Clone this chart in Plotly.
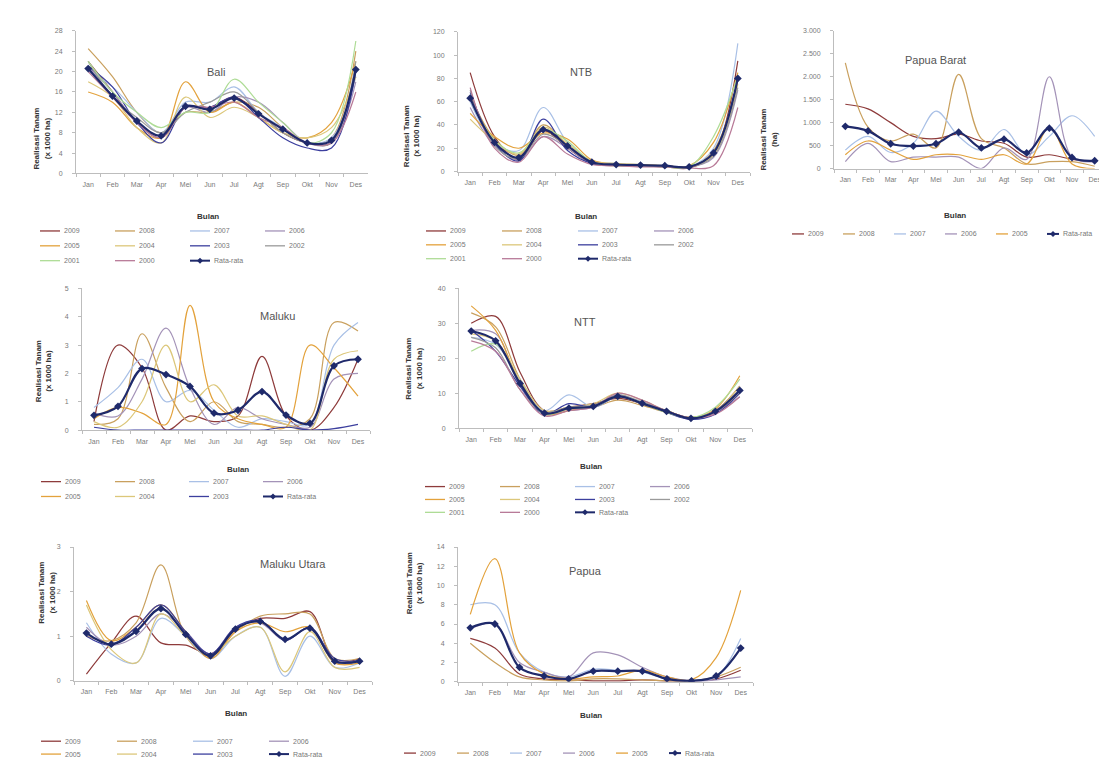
import plotly.graph_objects as go

W, H = 1107, 758

months = ['Jan', 'Feb', 'Mar', 'Apr', 'Mei', 'Jun', 'Jul', 'Agt', 'Sep', 'Okt', 'Nov', 'Des']
years10 = ['2009', '2008', '2007', '2006', '2005', '2004', '2003', '2002', '2001', '2000']
years7 = years10[:7]
years5 = years10[:5]
avg_label = 'Rata-rata'

# ---------------- data (x 1000 ha, Papua Barat in ha) ----------------
bali_values = [
    [22, 16, 10, 7, 13, 13, 15, 12, 8, 6, 6, 21],
    [24.5, 19, 12, 8, 12, 12, 14, 13, 9, 6, 7, 24],
    [20, 17, 12, 8, 14, 14, 17, 12, 9, 6, 7, 19],
    [21, 16, 10, 7, 13, 12, 15, 14, 10, 6, 6, 18],
    [16, 14, 9, 7, 18, 12, 14, 11, 8, 7, 10, 22],
    [18, 15, 9, 6, 15, 11, 13, 11, 8, 7, 9, 19],
    [21, 17, 10, 6, 13, 13, 15, 11, 7, 5, 5, 20],
    [22, 15, 11, 8, 12, 14, 16, 12, 8, 6, 6, 22],
    [22, 16, 12, 9, 12, 12, 18.5, 14, 10, 6, 8, 26],
    [20, 15, 10, 7, 13, 13, 14, 11, 9, 6, 6, 16],
]
bali_avg = [20.6, 15.2, 10.3, 7.4, 13.2, 12.6, 14.8, 11.7, 8.7, 6.0, 6.5, 20.4]

ntb_values = [
    [85, 30, 10, 35, 20, 7, 5, 5, 4, 3, 15, 95],
    [65, 28, 14, 40, 22, 8, 6, 5, 5, 4, 18, 78],
    [60, 25, 18, 55, 25, 9, 7, 6, 5, 4, 20, 110],
    [55, 22, 10, 30, 20, 7, 6, 5, 4, 4, 12, 70],
    [50, 30, 20, 33, 28, 10, 6, 6, 5, 5, 25, 85],
    [45, 26, 15, 38, 24, 9, 7, 6, 5, 4, 14, 75],
    [68, 24, 9, 45, 18, 7, 6, 5, 5, 4, 16, 80],
    [70, 22, 11, 32, 22, 8, 6, 5, 4, 4, 13, 72],
    [62, 27, 16, 36, 26, 8, 5, 5, 4, 4, 30, 82],
    [72, 20, 8, 30, 15, 6, 5, 4, 4, 3, 5, 55],
]
ntb_avg = [63, 25, 12, 36, 22, 8, 6, 5.5, 5, 4, 16, 80]

papbar_values = [
    [1400, 1300, 1000, 700, 650, 750, 600, 550, 250, 300, 200, 150],
    [2300, 900, 600, 750, 450, 2050, 650, 450, 100, 150, 150, 50],
    [400, 700, 350, 550, 1250, 700, 400, 850, 300, 700, 1150, 700],
    [150, 550, 150, 250, 250, 250, 0, 450, 200, 2000, 250, 150],
    [300, 600, 400, 200, 300, 300, 200, 300, 100, 900, 100, 0],
]
papbar_avg = [920, 820, 540, 490, 540, 790, 450, 640, 340, 880, 240, 170]

maluku_values = [
    [0.3, 3.0, 2.2, 0.0, 0.5, 0.3, 0.5, 2.6, 0.5, 0.0, 0.8, 2.5],
    [0.2, 0.4, 3.4, 1.5, 0.3, 1.0, 0.3, 0.2, 0.1, 0.4, 3.8, 3.5],
    [0.8, 1.5, 2.5, 1.0, 1.4, 0.7, 0.1, 0.4, 0.3, 0.2, 3.0, 3.8],
    [0.6, 0.5, 1.8, 3.6, 1.5, 0.2, 0.8, 0.4, 0.2, 0.1, 1.8, 2.0],
    [0.4, 0.8, 0.6, 0.2, 4.4, 1.0, 0.4, 0.2, 0.1, 3.0, 2.2, 1.2],
    [0.3, 0.1, 1.0, 3.0, 1.0, 1.6, 0.5, 0.5, 0.2, 0.0, 2.5, 2.8],
    [0.1, 0.0, 0.0, 0.0, 0.0, 0.0, 0.0, 0.0, 0.1, 0.0, 0.05, 0.2],
]
maluku_avg = [0.52, 0.84, 2.17, 1.96, 1.54, 0.6, 0.7, 1.36, 0.53, 0.24, 2.27, 2.5]

ntt_values = [
    [30, 32, 16, 5, 6, 7, 8.5, 7, 4.5, 3, 5, 12],
    [33, 29, 14, 4, 5.5, 6, 8, 6.5, 4.5, 3, 4.5, 10],
    [26, 24, 14, 5, 9.5, 6, 9, 7.5, 5, 3, 5, 11],
    [28, 27, 12, 4, 5, 6, 9.5, 7, 5, 2.5, 4.5, 9],
    [35, 28, 13, 4, 5, 6.5, 9, 7, 5, 3, 5.5, 15],
    [27, 25, 14, 5, 6, 7, 10, 8, 5, 3, 5, 12],
    [28, 22, 12, 4, 7, 6, 9, 7, 4.5, 2.5, 4, 10],
    [26, 23, 11, 4.5, 6, 6.5, 9.5, 7.5, 5, 3, 5, 11],
    [22, 24, 13, 4, 5.5, 6, 9, 7, 4.5, 3, 6, 14],
    [25, 22, 11, 3.5, 5, 6, 10, 8, 5, 3, 4, 9],
]
ntt_avg = [27.8, 25, 12.8, 4.3, 5.7, 6.2, 9.1, 7.1, 4.8, 2.8, 4.8, 10.8]

malut_values = [
    [0.15, 0.85, 1.45, 0.85, 0.8, 0.6, 1.15, 1.4, 1.4, 1.55, 0.45, 0.5],
    [1.0, 0.9, 1.3, 2.6, 1.0, 0.55, 1.1, 1.45, 1.5, 1.5, 0.5, 0.5],
    [1.3, 0.6, 0.4, 1.4, 1.0, 0.5, 1.0, 1.2, 0.1, 1.0, 0.3, 0.4],
    [1.2, 0.8, 1.0, 1.5, 1.1, 0.6, 1.2, 1.3, 0.9, 1.2, 0.4, 0.45],
    [1.8, 0.9, 1.2, 1.7, 1.1, 0.5, 1.1, 1.3, 1.1, 1.2, 0.4, 0.4],
    [1.7, 0.7, 0.4, 1.5, 1.0, 0.6, 1.0, 1.2, 0.2, 1.1, 0.3, 0.3],
    [1.0, 0.8, 1.2, 1.7, 1.1, 0.6, 1.2, 1.35, 0.9, 1.2, 0.5, 0.45],
]
malut_avg = [1.07, 0.82, 1.11, 1.62, 1.04, 0.56, 1.16, 1.33, 0.93, 1.18, 0.44, 0.44]

papua_values = [
    [4.5, 3.5, 0.8, 0.3, 0.2, 0.1, 0.1, 0.2, 0.1, 0.1, 0.3, 1.2],
    [4.0, 2.0, 0.5, 0.2, 0.1, 0.3, 0.3, 0.2, 0.1, 0.1, 0.5, 1.5],
    [8.0, 8.0, 3.0, 1.0, 0.5, 1.3, 1.2, 1.0, 0.3, 0.1, 0.5, 4.5],
    [5.5, 6.0, 2.0, 1.0, 0.5, 3.0, 2.8, 1.5, 0.5, 0.1, 0.2, 0.5],
    [7.0, 12.8, 3.0, 0.8, 0.3, 0.5, 0.6, 1.2, 0.5, 0.2, 2.5, 9.5],
]
papua_avg = [5.6, 6.0, 1.5, 0.6, 0.3, 1.1, 1.1, 1.1, 0.3, 0.1, 0.6, 3.5]

bali_ticks = [0, 4, 8, 12, 16, 20, 24, 28]
ntb_ticks = [0, 20, 40, 60, 80, 100, 120]
papbar_ticks = [0, 500, 1000, 1500, 2000, 2500, 3000]
papbar_ticktext = ['0', '500', '1.000', '1.500', '2.000', '2.500', '3.000']
maluku_ticks = [0, 1, 2, 3, 4, 5]
ntt_ticks = [0, 10, 20, 30, 40]
malut_ticks = [0, 1, 2, 3]
papua_ticks = [0, 2, 4, 6, 8, 10, 12, 14]

# ---------------- styling ----------------
year_colors = {
    '2009': '#8E3B3B', '2008': '#C9A05E', '2007': '#A9C0E6', '2006': '#A493B8',
    '2005': '#E3A23C', '2004': '#DCC77A', '2003': '#3C3F9E', '2002': '#9A9A9A',
    '2001': '#AEDC96', '2000': '#B87A98',
}
avg_color = '#1F2A6B'
FONT = 'Liberation Sans'


def fx(px):
    return px / W


def fy(py):
    return 1 - py / H


# layout spec (pixel geometry) for each panel
panels = [
    dict(title='Bali', years=years10, vals=bali_values, avg=bali_avg, ticks=bali_ticks, ticktext=None,
         x=(68, 360), y=(19, 163), ttl=(197, 52), bulan=(187, 200), ytitle_x=22, ytitle_y=95,
         unit='(x 1000 ha)', leg=dict(x0=32, dx=75, y0=221, dy=15, ncol=4)),
    dict(title='NTB', years=years10, vals=ntb_values, avg=ntb_avg, ticks=ntb_ticks, ticktext=None,
         x=(450, 742), y=(20, 161), ttl=(573, 52), bulan=(578, 200), ytitle_x=403, ytitle_y=92,
         unit='(x 1000 ha)', leg=dict(x0=418, dx=76, y0=221, dy=14, ncol=4)),
    dict(title='Papua Barat', years=years5, vals=papbar_values, avg=papbar_avg, ticks=papbar_ticks,
         ticktext=papbar_ticktext, x=(826, 1098), y=(19, 158), ttl=(960, 40), bulan=(960, 199),
         ytitle_x=772, ytitle_y=95, unit='(ha)', leg=dict(x0=784, dx=51, y0=224, dy=14, ncol=6, short=True)),
    dict(title='Maluku', years=years7, vals=maluku_values, avg=maluku_avg, ticks=maluku_ticks, ticktext=None,
         x=(74, 362), y=(279, 422), ttl=(250, 307), bulan=(217, 462), ytitle_x=24, ytitle_y=363,
         unit='(x 1000 ha)', leg=dict(x0=33, dx=74, y0=474, dy=15, ncol=4)),
    dict(title='NTT', years=years10, vals=ntt_values, avg=ntt_avg, ticks=ntt_ticks, ticktext=None,
         x=(451, 744), y=(279, 420), ttl=(577, 313), bulan=(583, 459), ytitle_x=406, ytitle_y=360,
         unit='(x 1000 ha)', leg=dict(x0=417, dx=75, y0=479, dy=13, ncol=4)),
    dict(title='Maluku Utara', years=years7, vals=malut_values, avg=malut_avg, ticks=malut_ticks, ticktext=None,
         x=(66, 364), y=(540, 675), ttl=(250, 565), bulan=(215, 715), ytitle_x=27, ytitle_y=620,
         unit='(x 1000 ha)', leg=dict(x0=33, dx=76, y0=736, dy=13, ncol=4)),
    dict(title='Papua', years=years5, vals=papua_values, avg=papua_avg, ticks=papua_ticks, ticktext=None,
         x=(450, 745), y=(540, 676), ttl=(577, 572), bulan=(583, 717), ytitle_x=406, ytitle_y=610,
         unit='(x 1000 ha)', leg=dict(x0=396, dx=53, y0=748, dy=14, ncol=6, short=True)),
]

fig = go.Figure()
shapes = []
annotations = []

for i, p in enumerate(panels):
    k = '' if i == 0 else str(i + 1)
    xa, ya = 'x' + k, 'y' + k
    for yr, vals in zip(p['years'], p['vals']):
        fig.add_trace(go.Scatter(
            x=months, y=vals, mode='lines', name=yr, xaxis=xa, yaxis=ya, showlegend=False,
            line=dict(color=year_colors[yr], width=1.2, shape='spline', smoothing=1.0),
        ))
    fig.add_trace(go.Scatter(
        x=months, y=p['avg'], mode='lines+markers', name=avg_label, xaxis=xa, yaxis=ya, showlegend=False,
        line=dict(color=avg_color, width=2.2, shape='spline', smoothing=1.0),
        marker=dict(symbol='diamond', size=6, color=avg_color),
    ))

    x0, x1 = p['x']
    y0, y1 = p['y']
    ymax = p['ticks'][-1]
    fig.layout['xaxis' + k] = dict(
        domain=[fx(x0), min(1.0, fx(x1))], anchor=ya, type='category', range=[-0.5, 11.5],
        showline=True, linecolor='#bdbdbd', linewidth=1, ticks='outside', ticklen=3, tickcolor='#bdbdbd',
        tickson='boundaries', showgrid=False, zeroline=False,
        tickfont=dict(family=FONT, size=7, color='#7a7a7a'), ticklabelstandoff=4,
    )
    yax = dict(
        domain=[fy(y1), fy(y0)], anchor=xa, range=[0, ymax], tickvals=p['ticks'],
        showline=True, linecolor='#bdbdbd', linewidth=1, ticks='outside', ticklen=3, tickcolor='#bdbdbd',
        showgrid=False, zeroline=False, tickfont=dict(family=FONT, size=7, color='#7a7a7a'),
        ticklabelstandoff=8,
    )
    if p['ticktext']:
        yax['ticktext'] = p['ticktext']
    fig.layout['yaxis' + k] = yax

    # panel title
    annotations.append(dict(x=fx(p['ttl'][0]), y=fy(p['ttl'][1]), xref='paper', yref='paper',
                            text=p['title'], showarrow=False,
                            font=dict(family=FONT, size=11, color='#555555')))
    # x title
    annotations.append(dict(x=fx(p['bulan'][0]), y=fy(p['bulan'][1]), xref='paper', yref='paper',
                            text='<b>Bulan</b>', showarrow=False,
                            font=dict(family=FONT, size=8, color='#333333')))
    # y title
    annotations.append(dict(x=fx(p['ytitle_x']), y=fy(p['ytitle_y']), xref='paper', yref='paper',
                            text='<b>Realisasi Tanam<br>' + p['unit'] + '</b>', showarrow=False,
                            textangle=-90, font=dict(family=FONT, size=8, color='#333333')))

    # manual legend
    lg = p['leg']
    entries = [(yr, year_colors[yr], False) for yr in p['years']] + [(avg_label, avg_color, True)]
    seg = 12 if lg.get('short') else 20
    for j, (lab, col, is_avg) in enumerate(entries):
        r, c = divmod(j, lg['ncol'])
        lx = lg['x0'] + c * lg['dx']
        ly = lg['y0'] + r * lg['dy']
        shapes.append(dict(type='line', xref='paper', yref='paper', x0=fx(lx), x1=fx(lx + seg),
                           y0=fy(ly), y1=fy(ly), line=dict(color=col, width=2 if is_avg else 1.3)))
        if is_avg:
            cx, cy, s = lx + seg / 2, ly, 3
            shapes.append(dict(type='path', xref='paper', yref='paper', fillcolor=col,
                               line=dict(color=col, width=0),
                               path=f'M {fx(cx - s)} {fy(cy)} L {fx(cx)} {fy(cy - s)} L {fx(cx + s)} {fy(cy)} '
                                    f'L {fx(cx)} {fy(cy + s)} Z'))
        annotations.append(dict(x=fx(lx + seg + 2), y=fy(ly), xref='paper', yref='paper', text=lab,
                                showarrow=False, xanchor='left', yanchor='middle',
                                font=dict(family=FONT, size=7, color='#777777')))

fig.update_layout(
    width=W, height=H, margin=dict(l=0, r=0, t=0, b=0),
    paper_bgcolor='white', plot_bgcolor='white', showlegend=False,
    shapes=shapes, annotations=annotations,
    font=dict(family=FONT),
)

fig.write_html('out.html')
